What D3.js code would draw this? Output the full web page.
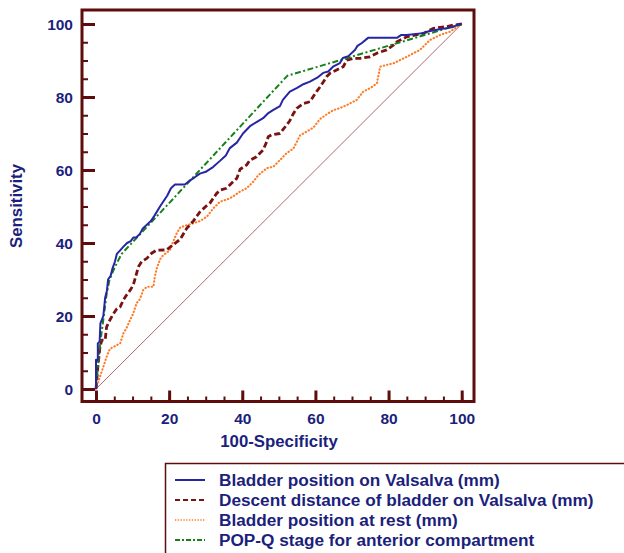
<!DOCTYPE html>
<html>
<head>
<meta charset="utf-8">
<script src="https://cdn.jsdelivr.net/npm/d3@7"></script>
<style>
  html, body { margin: 0; padding: 0; background: #ffffff; }
  svg { display: block; }
  text { font-family: "Liberation Sans", Arial, sans-serif; font-weight: bold; fill: #1c1f7c; }
</style>
</head>
<body>
<svg id="chart" width="624" height="553"></svg>
<script>
// ---------- DATA (100-Specificity, Sensitivity) ----------
const seriesNames = [
  "Bladder position on Valsalva (mm)",
  "Descent distance of bladder on Valsalva (mm)",
  "Bladder position at rest (mm)",
  "POP-Q stage for anterior compartment"
];
const xTicks = [0, 20, 40, 60, 80, 100];
const yTicks = [0, 20, 40, 60, 80, 100];

const valsalvaPosition = [[0,0],[0,8],[0.5,8],[0.5,12.5],[1,13],[1.2,18],[2,20],[2.5,25],[3,27],[3.3,30],[4,31],[4.5,33],[5.2,35],[5.7,37],[6.6,38],[7.5,39],[8.5,40],[9.5,40.5],[10.2,41.5],[11,41.5],[12,42.5],[12.8,44],[13.9,45],[15,46],[16,47.5],[17.5,50],[18.5,51.5],[19.5,53],[20.5,55],[21.6,56],[24.3,56],[25.5,57],[27,58],[28.4,59],[30,59.5],[32,60.8],[33.9,62.5],[35.5,64],[36.6,66],[38.5,67.5],[40.2,70],[42.1,72],[44,73.2],[45.7,74.2],[47,75.5],[48.4,76.4],[50.3,77.5],[51.1,79.2],[53,81.5],[55,82.5],[56.7,83.5],[58.5,84.2],[60.5,85.3],[62.1,86.6],[63.5,87],[64.8,88.3],[66.7,89.3],[67.5,90.7],[69,91.2],[70.8,92.9],[71.5,94],[72.7,94.8],[74.4,96.2],[82.3,96.2],[83.5,97],[85,97],[89.4,97.5],[91,98],[93.2,98.4],[95.5,98.8],[97.6,99.2],[99.5,100],[100,100]];

const descentDistance = [[0,0],[0.5,6],[1.1,11.6],[1.6,13.4],[2.5,13.4],[2.9,17],[3.8,18.9],[4.7,20.5],[5.7,22],[6.6,22.5],[7.5,24.4],[8.4,25.8],[9.3,27],[10.2,28.5],[11.1,31.7],[11.6,33.5],[12.5,34.9],[13.9,35.8],[15.2,37.2],[16.5,38],[19.3,38.1],[21.1,39.5],[23,41],[24.8,44],[26.6,46],[28.4,48.5],[30,50],[31.2,51],[33,53.6],[34,54.5],[35.7,55],[37.5,56.8],[38.5,57.7],[39.4,60.2],[41.2,61.4],[42.1,62.7],[43.9,63.6],[44.8,64.6],[45.7,65.5],[46.7,67.8],[47.1,69.1],[48,69.6],[50.3,70],[52.1,72.3],[53,73.5],[54,75.5],[54.9,76.9],[56.7,78.2],[58.5,78.7],[60.3,81.5],[61.3,82.8],[62.2,84.2],[63.1,85.6],[64,86.5],[65.8,87.4],[67.6,88.3],[68.6,90.1],[70.4,90.6],[72.2,90.6],[74.9,91],[76.8,92],[79.5,92.9],[81.3,94.2],[82.2,95.1],[85,96.5],[89.5,97.4],[92.2,98.8],[95.9,99.3],[97.7,99.7],[100,100]];

const restPosition = [[0,0],[1.1,3.4],[2,6.1],[2.9,8.8],[3.8,11],[5.7,12],[6.6,12.5],[7.5,15.3],[8.4,16.8],[9.3,18.9],[10.2,20.7],[11.1,23.5],[12,24.6],[12.9,27.1],[13.9,28],[15.7,28],[16.1,30.8],[16.6,33],[17.5,35.5],[18.4,36.7],[20.2,38],[21.1,40.4],[22.1,42.7],[23,44.2],[24.8,44.9],[26.6,45.4],[28.4,46],[30.3,47.2],[32.1,49.5],[33.9,51.3],[36.6,52.2],[39.4,54.1],[41.2,55],[43,56.8],[44.4,58.6],[46.7,60.5],[48.5,60.9],[50.3,62.7],[52.1,64.6],[54,65.9],[55.8,69.5],[57.6,70.5],[59.4,71.6],[61.3,74],[63,75.2],[64.9,76.4],[66.8,77],[68.6,77.8],[71.3,79.2],[73.1,81.5],[74.9,82.4],[76.8,83.7],[77.7,88.3],[79.5,88.8],[81.3,89.2],[83.1,90.1],[85,91],[86.8,92],[88.6,92.9],[90.4,94.7],[91.3,95.6],[94.1,97],[96.8,97.9],[99.5,99.7],[100,100]];

const popqStage = [[0,0],[0.5,6],[1.2,13],[2,19],[2.9,26],[3.7,30],[5.2,33.5],[7,37],[9.8,40],[21,52],[52.3,85.8],[100,100]];

const referenceLine = [[0,0],[100,100]];

// ---------- STYLES ----------
const styles = [
  { data: valsalvaPosition, color: "#2626a4", width: 2,   dash: null,          cap: "butt" },
  { data: descentDistance,  color: "#7a1212", width: 2.8, dash: "6,3",         cap: "butt" },
  { data: restPosition,     color: "#ff7a22", width: 2.1, dash: "0.4,3",       cap: "round" },
  { data: popqStage,        color: "#17801a", width: 2,   dash: "6,2.5,2,2.5", cap: "butt" }
];

const svg = d3.select("#chart");
const frameColor = "#5e0c0c";

const x = d3.scaleLinear().domain([0, 100]).range([96, 461.7]);
const y = d3.scaleLinear().domain([0, 100]).range([389, 24]);

// frame
svg.append("rect")
  .attr("x", 82).attr("y", 10).attr("width", 392).attr("height", 391.5)
  .attr("fill", "none").attr("stroke", frameColor).attr("stroke-width", 3);

// y axis minor + major ticks
const yMinor = svg.append("g").attr("transform", "translate(82,0)")
  .call(d3.axisLeft(y).tickValues(d3.range(0, 101, 5)).tickSize(-6).tickFormat(""));
const yMajor = svg.append("g").attr("transform", "translate(82,0)")
  .call(d3.axisLeft(y).tickValues(yTicks).tickSize(-13).tickPadding(9).tickFormat(d3.format("d")));
// x axis
const xMinor = svg.append("g").attr("transform", "translate(0,401.5)")
  .call(d3.axisBottom(x).tickValues(d3.range(0, 101, 5)).tickSize(-5).tickFormat(""));
const xMajor = svg.append("g").attr("transform", "translate(0,401.5)")
  .call(d3.axisBottom(x).tickValues(xTicks).tickSize(-11).tickPadding(11).tickFormat(d3.format("d")));

[yMinor, yMajor, xMinor, xMajor].forEach(g => g.select(".domain").remove());
[yMinor, xMinor].forEach(g => g.selectAll(".tick line").attr("stroke", frameColor).attr("stroke-width", 2));
[yMajor, xMajor].forEach(g => g.selectAll(".tick line").attr("stroke", frameColor).attr("stroke-width", 3));
[yMajor, xMajor].forEach(g => g.selectAll(".tick text")
  .attr("font-family", "Liberation Sans, Arial, sans-serif")
  .attr("font-weight", "bold").attr("font-size", 15.5).attr("fill", "#1c1f7c"));
yMajor.selectAll(".tick text").attr("dy", "0.36em");
xMajor.selectAll(".tick text").attr("dy", "0.71em");

// axis titles
svg.append("text").attr("x", 279).attr("y", 447).attr("text-anchor", "middle")
  .attr("font-size", 16.8).text("100-Specificity");
svg.append("text").attr("transform", "translate(22,206) rotate(-90)").attr("text-anchor", "middle")
  .attr("font-size", 16.8).text("Sensitivity");

// reference diagonal
const line = d3.line().x(d => x(d[0])).y(d => y(d[1]));
svg.append("path").datum(referenceLine).attr("d", line)
  .attr("fill", "none").attr("stroke", "#b46a6a").attr("stroke-width", 1);

// curves (draw order: rest, descent, popq, valsalva)
[2, 1, 3, 0].forEach(i => {
  const s = styles[i];
  svg.append("path").datum(s.data).attr("d", line)
    .attr("fill", "none").attr("stroke", s.color).attr("stroke-width", s.width)
    .attr("stroke-linejoin", "round").attr("stroke-linecap", s.cap)
    .attr("stroke-dasharray", s.dash);
});

// legend
svg.append("rect").attr("x", 165.5).attr("y", 463.5).attr("width", 480).attr("height", 120)
  .attr("fill", "none").attr("stroke", frameColor).attr("stroke-width", 1.5);
const legendRows = [480, 500, 520, 540];
seriesNames.forEach((name, i) => {
  const s = styles[i];
  svg.append("line").attr("x1", 175).attr("x2", 205).attr("y1", legendRows[i]).attr("y2", legendRows[i])
    .attr("stroke", s.color).attr("stroke-width", i === 2 ? 1.6 : 2)
    .attr("stroke-dasharray", i === 1 ? "5,3" : (i === 2 ? "1.3,1.5" : (i === 3 ? "5,2,2,2" : null)));
  svg.append("text").attr("x", 219).attr("y", legendRows[i]).attr("dy", "0.36em")
    .attr("font-size", 17.2).text(name);
});
</script>
</body>
</html>
